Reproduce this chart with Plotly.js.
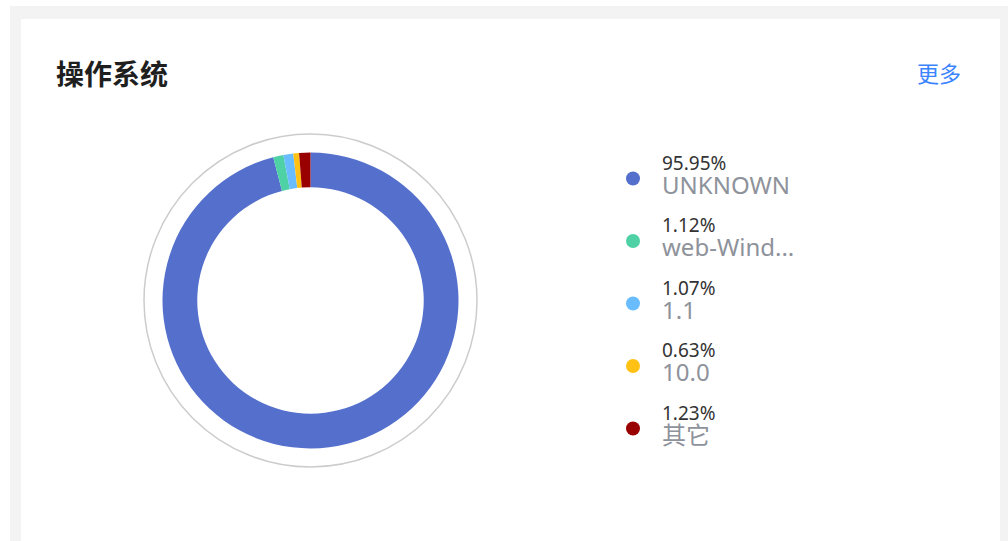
<!DOCTYPE html>
<html>
<head>
<meta charset="utf-8">
<script src="https://cdn.plot.ly/plotly-3.0.1.min.js"></script>
<style>
  html, body { margin: 0; padding: 0; background: #ffffff; }
  #chart { width: 1008px; height: 541px; }
</style>
</head>
<body>
<div id="chart"></div>
<script>
// ---- data ----
const categories = ['UNKNOWN', 'web-Wind...', '1.1', '10.0', '其它'];
const percentValues = [95.95, 1.12, 1.07, 0.63, 1.23];
const percentLabels = ['95.95%', '1.12%', '1.07%', '0.63%', '1.23%'];
const sliceColors = ['#5470cc', '#4fd1a6', '#69bdff', '#ffc214', '#990000'];
const chartTitle = '操作系统';
const moreLabel = '更多';

// ---- layout constants ----
const W = 1008, H = 541;
const CX = 310.5, CY = 300.5, R = 148, HOLE = 0.765, RING_R = 166.5;
const DOT_X = 633, TEXT_X = 662;
const idx = categories.map((_, i) => i);

const pie = {
  type: 'pie',
  values: percentValues,
  labels: categories,
  sort: false,
  direction: 'clockwise',
  rotation: 0,
  hole: HOLE,
  textinfo: 'none',
  showlegend: false,
  marker: { colors: sliceColors, line: { width: 0 } },
  domain: {
    x: [(CX - R) / W, (CX + R) / W],
    y: [(H - CY - R) / H, (H - CY + R) / H]
  },
  hovertemplate: '%{label}: %{value}%<extra></extra>'
};

const dots = {
  type: 'scatter', mode: 'markers',
  x: idx.map(() => DOT_X), y: idx,
  marker: { size: 14, color: sliceColors, symbol: 'circle' },
  hoverinfo: 'skip', showlegend: false, cliponaxis: false
};

// legend labels: percentage line above the category name, one text block each
const legendLabels = idx.map(i =>
  '<span style="font-size:19px;fill:#333333">' + percentLabels[i] + '</span><br>' +
  '<span style="font-size:24px;fill:#8e929b">' + categories[i] + '</span>'
);

const legendText = {
  type: 'scatter', mode: 'text',
  x: idx.map(() => TEXT_X), y: idx.map(i => i - 0.02),
  text: legendLabels, textposition: 'middle right',
  textfont: { family: 'Noto Sans, Noto Sans CJK SC, sans-serif', size: 18.2, color: '#8e929b' },
  hoverinfo: 'skip', showlegend: false, cliponaxis: false
};

const layout = {
  width: W, height: H,
  margin: { l: 0, r: 0, t: 0, b: 0 },
  paper_bgcolor: '#ffffff',
  plot_bgcolor: 'rgba(0,0,0,0)',
  showlegend: false,
  xaxis: { visible: false, range: [0, W], domain: [0, 1], fixedrange: true },
  yaxis: { visible: false, range: [5.8, -2.856], domain: [0, 1], fixedrange: true },
  shapes: [
    { type: 'rect', xref: 'paper', yref: 'paper', layer: 'below',
      x0: 10 / W, x1: 1, y0: 0, y1: 1 - 6 / H,
      fillcolor: '#f3f3f3', line: { width: 0 } },
    { type: 'rect', xref: 'paper', yref: 'paper', layer: 'below',
      x0: 21 / W, x1: 1000 / W, y0: 0, y1: 1 - 19 / H,
      fillcolor: '#ffffff', line: { width: 0 } },
    { type: 'circle', xref: 'paper', yref: 'paper', layer: 'below',
      x0: (CX - RING_R) / W, x1: (CX + RING_R) / W,
      y0: (H - CY - RING_R) / H, y1: (H - CY + RING_R) / H,
      line: { color: '#cccccc', width: 1.5 }, fillcolor: 'rgba(0,0,0,0)' }
  ],
  annotations: [
    { text: '<b>' + chartTitle + '</b>', xref: 'paper', yref: 'paper',
      x: 54 / W, y: 1 - 73 / H, xanchor: 'left', yanchor: 'middle', showarrow: false,
      font: { family: 'Noto Sans CJK SC, sans-serif', size: 28, color: '#1f1f1f' } },
    { text: moreLabel, xref: 'paper', yref: 'paper',
      x: 963 / W, y: 1 - 72 / H, xanchor: 'right', yanchor: 'middle', showarrow: false,
      font: { family: 'Noto Sans CJK SC, sans-serif', size: 22, color: '#3a84ff' } }
  ]
};

Plotly.newPlot('chart', [pie, dots, legendText], layout, { displayModeBar: false, staticPlot: true });
</script>
</body>
</html>
